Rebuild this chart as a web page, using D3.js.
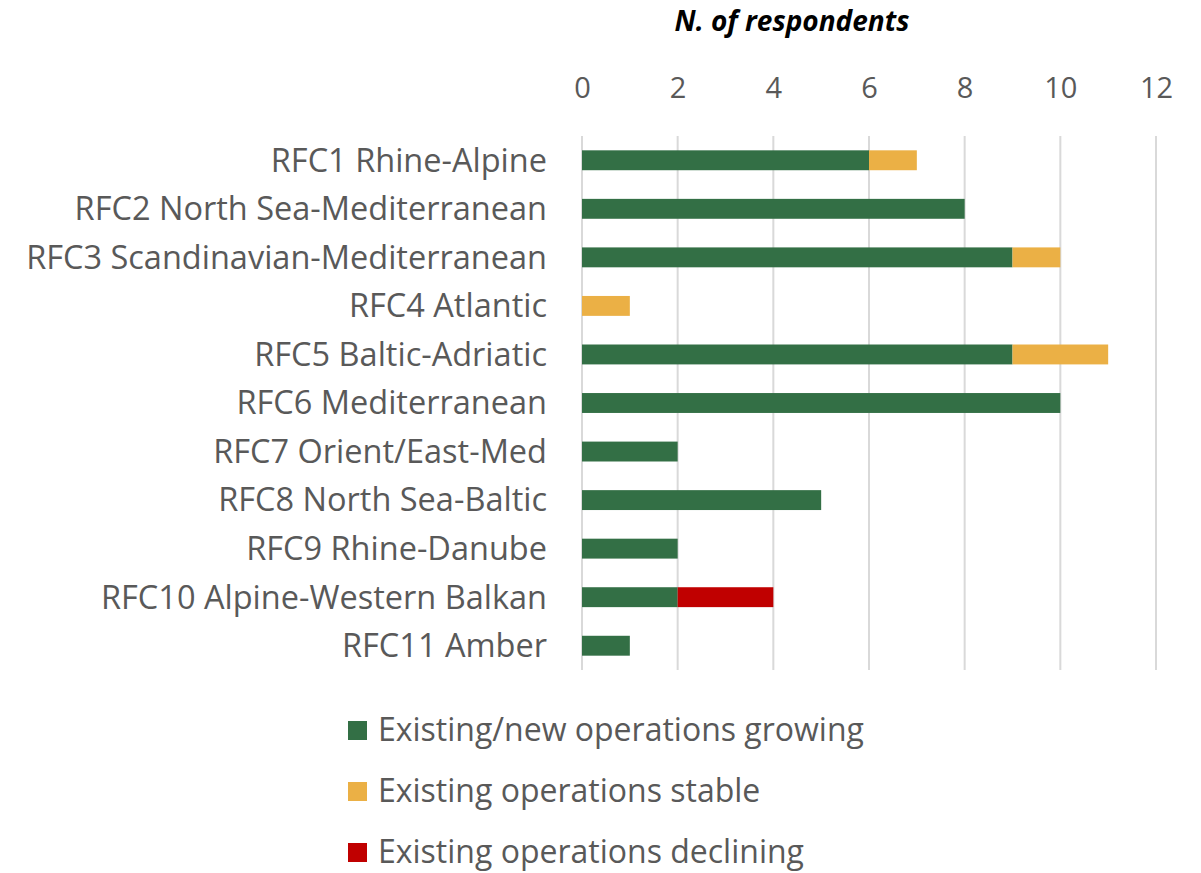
<!DOCTYPE html>
<html>
<head>
<meta charset="utf-8">
<script src="https://cdn.jsdelivr.net/npm/d3@7"></script>
<style>
  body { margin: 0; background: #fff; }
  text { font-family: "Open Sans", sans-serif; }
</style>
</head>
<body>
<svg width="1201" height="873"></svg>
<script>
var corridors = ["RFC1 Rhine-Alpine", "RFC2 North Sea-Mediterranean", "RFC3 Scandinavian-Mediterranean",
  "RFC4 Atlantic", "RFC5 Baltic-Adriatic", "RFC6 Mediterranean", "RFC7 Orient/East-Med",
  "RFC8 North Sea-Baltic", "RFC9 Rhine-Danube", "RFC10 Alpine-Western Balkan", "RFC11 Amber"];
var growing   = [6, 8, 9, 0, 9, 10, 2, 5, 2, 2, 1];
var stable    = [1, 0, 1, 1, 2, 0, 0, 0, 0, 0, 0];
var declining = [0, 0, 0, 0, 0, 0, 0, 0, 0, 2, 0];
var seriesNames = ["Existing/new operations growing", "Existing operations stable", "Existing operations declining"];
var colors = ["#336F45", "#EBB045", "#C00000"];
var ticks = [0, 2, 4, 6, 8, 10, 12];

var svg = d3.select("svg");

var x = d3.scaleLinear().domain([0, 12]).range([582, 1156]);
var y = d3.scaleBand().domain(corridors).range([136, 670]).paddingInner(0.59).paddingOuter(0.295);

var rows = corridors.map(function(c, i) {
  return {name: c, growing: growing[i], stable: stable[i], declining: declining[i]};
});
var stacked = d3.stack().keys(["growing", "stable", "declining"])(rows);

// gridlines
svg.append("g").selectAll("line")
  .data(ticks)
  .enter().append("line")
    .attr("x1", function(d) { return x(d); })
    .attr("x2", function(d) { return x(d); })
    .attr("y1", 136).attr("y2", 670)
    .style("stroke", "#d9d9d9")
    .style("stroke-width", 2);

// top axis labels
var axis = svg.append("g")
  .attr("transform", "translate(0,88)")
  .call(d3.axisTop(x).tickValues(ticks).tickSize(0).tickPadding(0));
axis.select(".domain").remove();
axis.selectAll("text")
  .attr("dy", "0.35em")
  .style("font-size", "29px")
  .style("fill", "#595959")
  .style("font-family", "'Open Sans', sans-serif");

// title
svg.append("text")
  .attr("x", 792).attr("y", 31)
  .attr("text-anchor", "middle")
  .style("font-size", "28px")
  .style("font-weight", "bold")
  .style("font-style", "italic")
  .style("fill", "#000")
  .text("N. of respondents");

// bars
svg.append("g").selectAll("g")
  .data(stacked)
  .enter().append("g")
    .style("fill", function(d, i) { return colors[i]; })
  .selectAll("rect")
  .data(function(d) { return d; })
  .enter().append("rect")
    .attr("x", function(d) { return x(d[0]); })
    .attr("y", function(d) { return y(d.data.name); })
    .attr("width", function(d) { return x(d[1]) - x(d[0]); })
    .attr("height", y.bandwidth());

// category labels
svg.append("g").selectAll("text")
  .data(corridors)
  .enter().append("text")
    .attr("x", 547)
    .attr("y", function(d) { return y(d) + y.bandwidth() / 2; })
    .attr("dy", "0.35em")
    .attr("text-anchor", "end")
    .style("font-size", "32.5px")
    .style("fill", "#595959")
    .text(function(d) { return d; });

// legend
var legend = svg.append("g").selectAll("g")
  .data(seriesNames)
  .enter().append("g")
    .attr("transform", function(d, i) { return "translate(348," + (730 + i * 61) + ")"; });
legend.append("rect")
  .attr("x", 0).attr("y", -9)
  .attr("width", 19).attr("height", 19)
  .style("fill", function(d, i) { return colors[i]; });
legend.append("text")
  .attr("x", 30).attr("y", 0)
  .attr("dy", "0.33em")
  .style("font-size", "32px")
  .style("fill", "#595959")
  .text(function(d) { return d; });
</script>
</body>
</html>
